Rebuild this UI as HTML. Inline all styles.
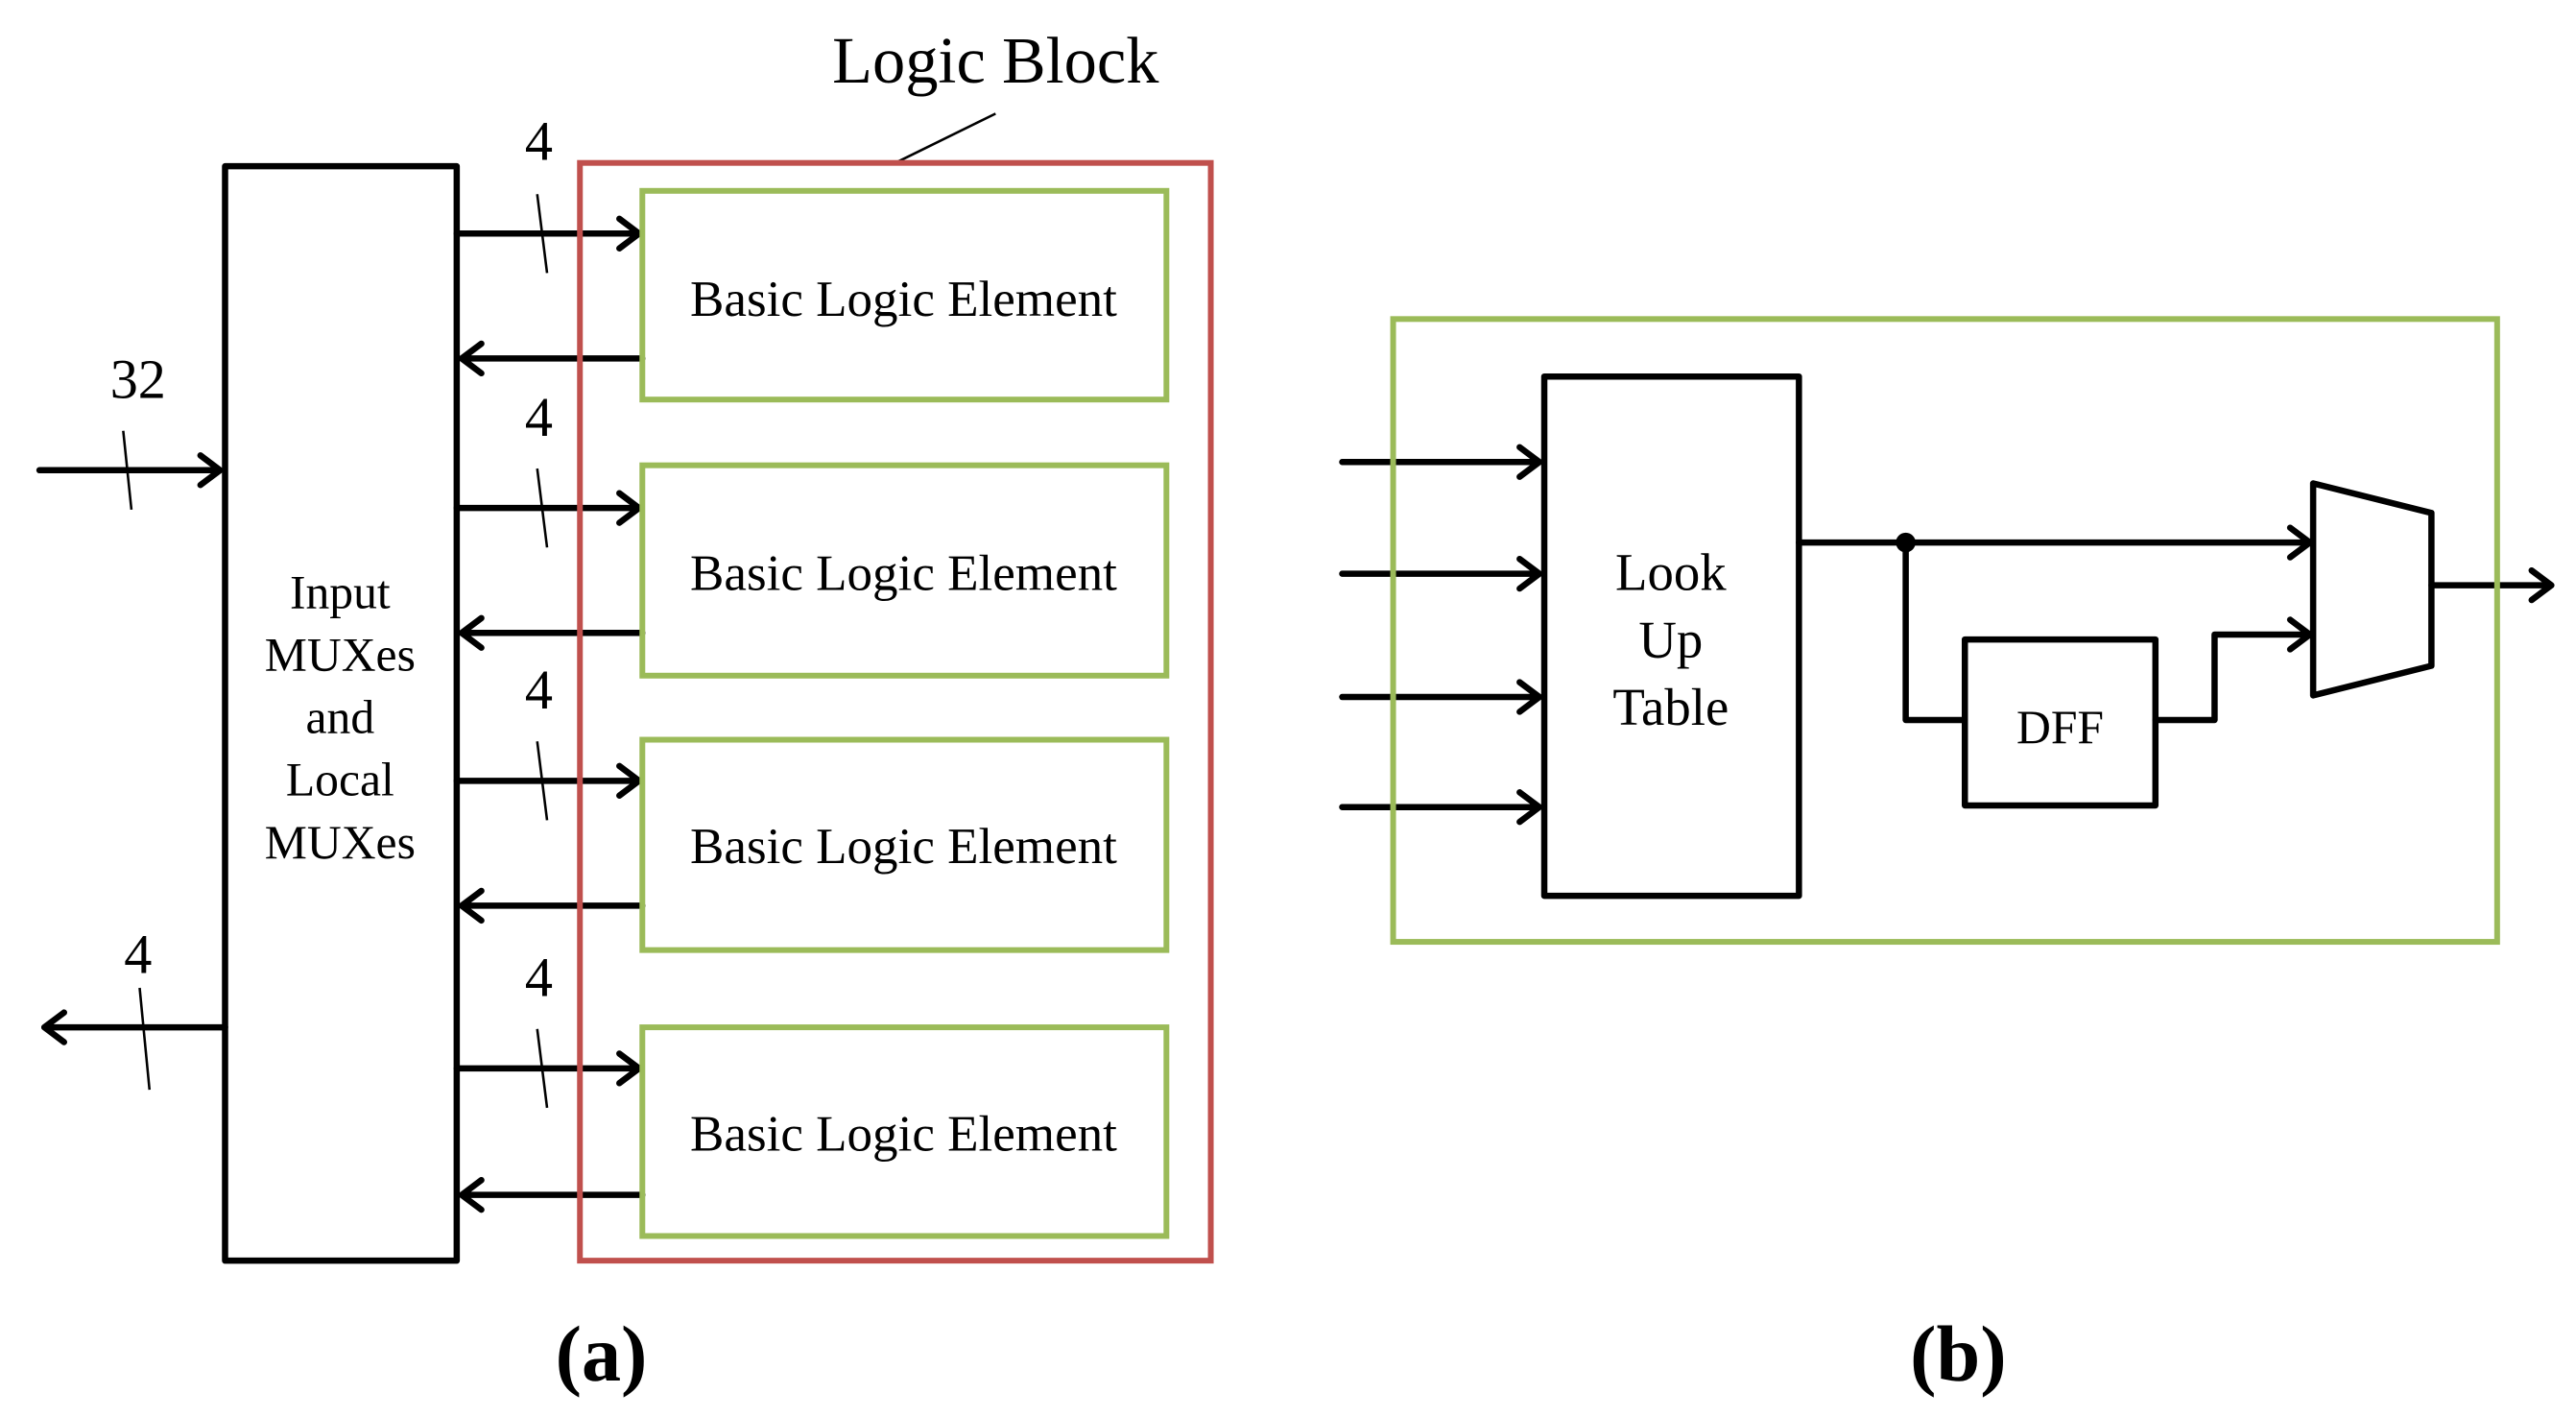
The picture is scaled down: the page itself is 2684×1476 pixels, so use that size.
<!DOCTYPE html>
<html><head><meta charset="utf-8"><style>
html,body{margin:0;padding:0;background:#fff;}
svg{display:block;}
text{font-family:"Liberation Serif",serif;fill:#000;}
</style></head><body>
<svg width="2684" height="1476" viewBox="0 0 1568 862" xmlns="http://www.w3.org/2000/svg">
<g stroke="#000" stroke-width="3.8" fill="none" stroke-linecap="round" stroke-linejoin="round">
<rect x="137" y="101" width="141" height="666"/>
<path d="M278 142H389M377 133L389 142L377 151"/>
<path d="M278 309H389M377 300L389 309L377 318"/>
<path d="M278 475H389M377 466L389 475L377 484"/>
<path d="M278 650H389M377 641L389 650L377 659"/>
<path d="M391 218H281M293 209L281 218L293 227"/>
<path d="M391 385H281M293 376L281 385L293 394"/>
<path d="M391 551H281M293 542L281 551L293 560"/>
<path d="M391 727H281M293 718L281 727L293 736"/>
<path d="M24 286H134M122 277L134 286L122 295"/>
<path d="M137 625H27M39 616L27 625L39 634"/>
<rect x="940" y="229" width="155" height="316"/>
<path d="M817 281H937M925 272L937 281L925 290"/>
<path d="M817 349H937M925 340L937 349L925 358"/>
<path d="M817 424H937M925 415L937 424L925 433"/>
<path d="M817 491H937M925 482L937 491L925 500"/>
<path d="M1095 330H1406M1394 321L1406 330L1394 339"/>
<path d="M1160 330V438H1196"/>
<rect x="1196" y="389" width="116" height="101"/>
<path d="M1312 438H1348V386H1406M1394 377L1406 386L1394 395"/>
<path d="M1408 294L1480 312V405L1408 423Z"/>
<path d="M1480 356H1553M1541 347L1553 356L1541 365"/>
</g>
<circle cx="1160" cy="330" r="6" fill="#000"/>
<g stroke="#000" stroke-width="1.5">
<line x1="327" y1="118" x2="333" y2="166"/>
<line x1="327" y1="285" x2="333" y2="333"/>
<line x1="327" y1="451" x2="333" y2="499"/>
<line x1="327" y1="626" x2="333" y2="674"/>
<line x1="75" y1="262" x2="80" y2="310"/>
<line x1="85" y1="601" x2="91" y2="663"/>
<line x1="606" y1="69" x2="545" y2="99"/>
</g>
<rect x="353" y="99" width="384" height="668" fill="none" stroke="#c0504d" stroke-width="3.5"/>
<g fill="none" stroke="#9bbb59" stroke-width="3.5">
<rect x="391" y="116" width="319" height="127"/>
<rect x="391" y="283" width="319" height="128"/>
<rect x="391" y="450" width="319" height="128"/>
<rect x="391" y="625" width="319" height="127"/>
<rect x="848" y="194" width="672" height="379"/>
</g>
<g font-size="31" text-anchor="middle">
<text x="550" y="192">Basic Logic Element</text>
<text x="550" y="359">Basic Logic Element</text>
<text x="550" y="525">Basic Logic Element</text>
<text x="550" y="700">Basic Logic Element</text>
</g>
<g font-size="29" text-anchor="middle">
<text x="207" y="370">Input</text>
<text x="207" y="408">MUXes</text>
<text x="207" y="446">and</text>
<text x="207" y="484">Local</text>
<text x="207" y="522">MUXes</text>
<text x="1017" y="359" font-size="32">Look</text>
<text x="1017" y="400" font-size="32">Up</text>
<text x="1017" y="441" font-size="32">Table</text>
<text x="1254" y="452">DFF</text>
</g>
<g font-size="34" text-anchor="middle">
<text x="328" y="97">4</text>
<text x="328" y="265">4</text>
<text x="328" y="431">4</text>
<text x="328" y="606">4</text>
<text x="84" y="242">32</text>
<text x="84" y="592">4</text>
<text x="606" y="50" font-size="40">Logic Block</text>
<text x="366" y="840" font-size="48" font-weight="bold">(a)</text>
<text x="1192" y="840" font-size="48" font-weight="bold">(b)</text>
</g>
</svg>
</body></html>
